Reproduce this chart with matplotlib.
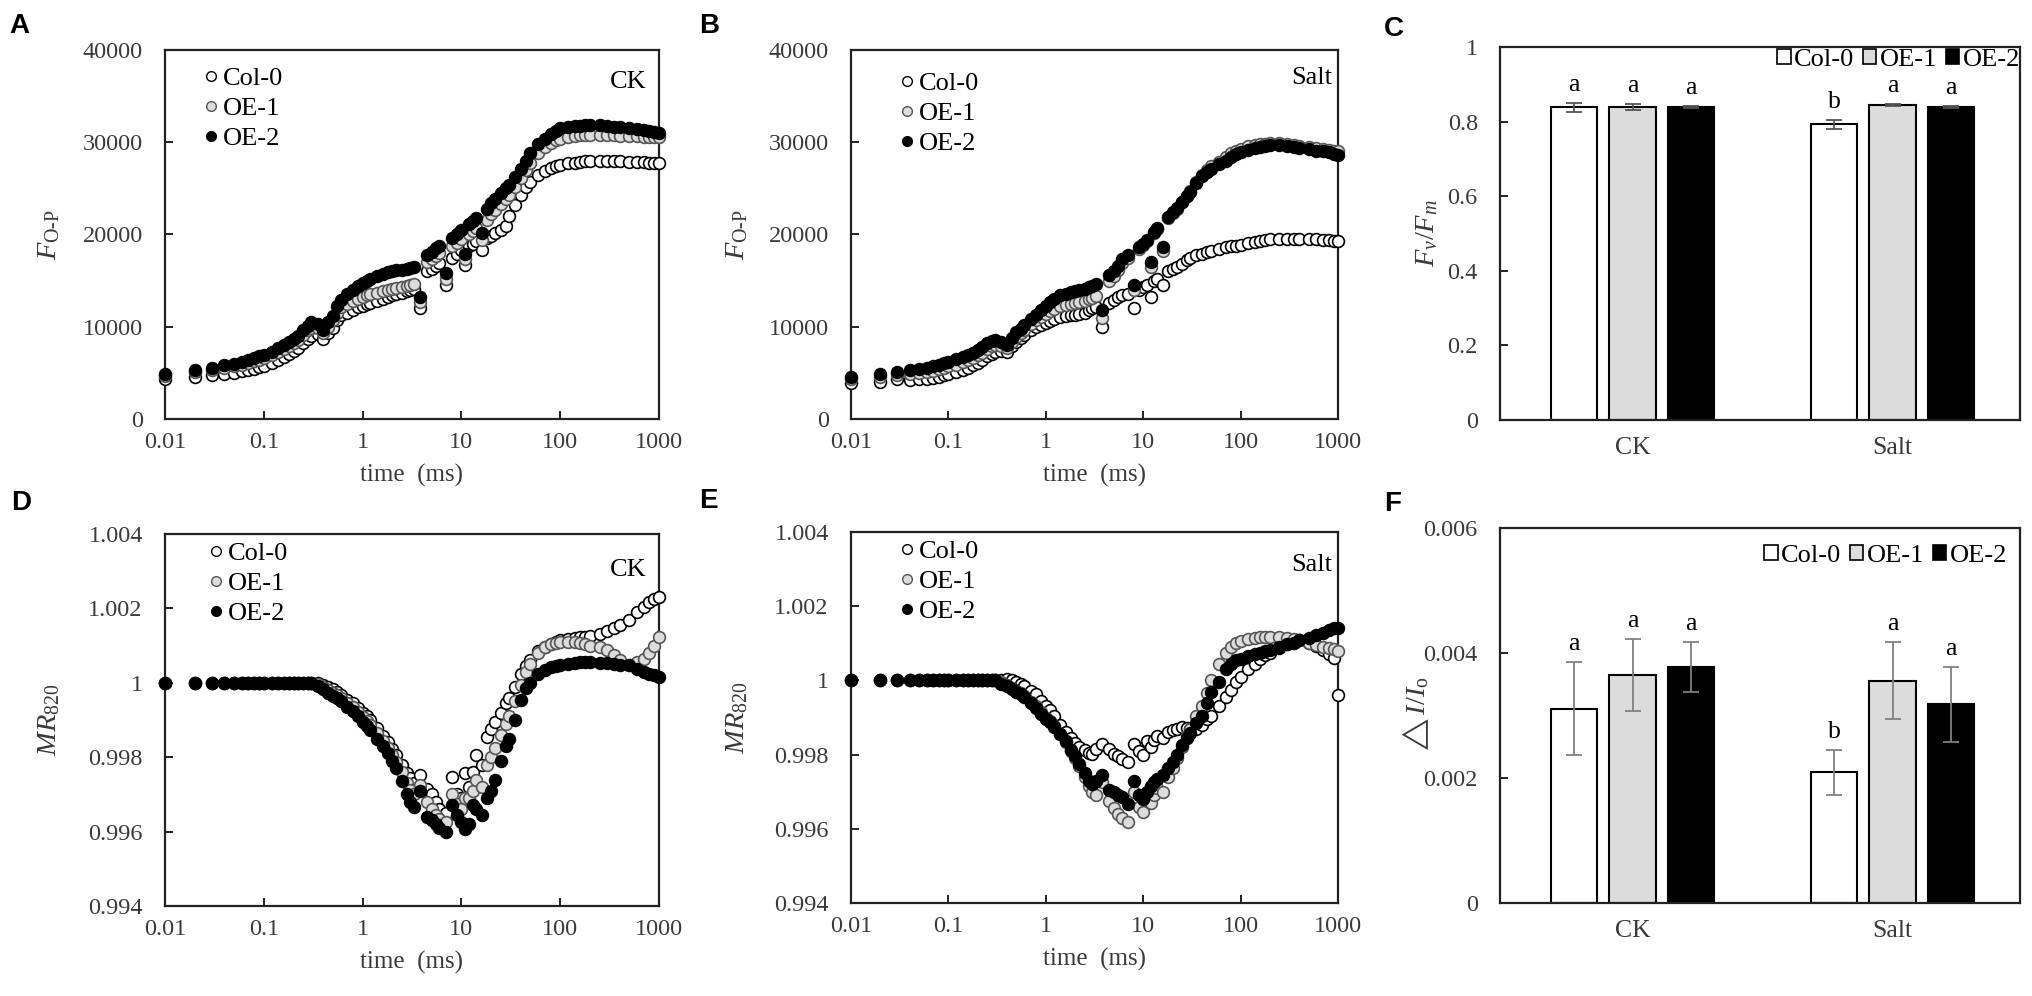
import numpy as np
import matplotlib
matplotlib.use('Agg')
import matplotlib.pyplot as plt
from matplotlib.lines import Line2D
from matplotlib.patches import Patch

plt.rcParams['font.family'] = ['Liberation Serif', 'DejaVu Serif']
plt.rcParams['mathtext.fontset'] = 'custom'
plt.rcParams['mathtext.rm'] = 'Liberation Serif'
plt.rcParams['mathtext.it'] = 'Liberation Serif:italic'
plt.rcParams['mathtext.fallback'] = 'stix'

# ---- data ----
genotypes = ['Col-0', 'OE-1', 'OE-2']

# sampling times (ms)
t = [0.01, 0.02, 0.03, 0.04, 0.05, 0.06, 0.07, 0.08, 0.09, 0.1,
     0.12, 0.14, 0.16, 0.18, 0.2, 0.22, 0.25, 0.28, 0.3, 0.35,
     0.4, 0.45, 0.5, 0.55, 0.6, 0.7, 0.8, 0.9, 1.0, 1.1,
     1.2, 1.4, 1.6, 1.8, 2.0, 2.2, 2.5, 2.8, 3.0, 3.3,
     3.8, 4.5, 5.0, 5.5, 6.0, 7.0, 8.0, 9.0, 10, 11,
     12, 13, 14, 16, 18, 20, 22, 25, 28, 30,
     35, 40, 45, 50, 60, 70, 80, 90, 100, 120,
     140, 160, 180, 200, 250, 300, 350, 400, 500, 600,
     700, 800, 900, 1000]

# A: OJIP, CK
ojip_ck_col0 = [4300, 4600, 4800, 4900, 5000, 5150, 5300, 5450, 5600, 5750,
                6050, 6350, 6700, 7000, 7350, 7700, 8200, 8700, 9000, 9200,
                8700, 9300, 9900, 10700, 11300, 11500, 11800, 12100, 12300, 12500,
                12600, 12800, 13000, 13200, 13400, 13500, 13700, 13900, 14000, 14100,
                12000, 16000, 16300, 16600, 16900, 14500, 17500, 17900, 18300, 16700,
                18700, 19000, 19300, 18300, 19600, 19800, 20200, 20500, 20900, 22000,
                23200, 24300, 25100, 25700, 26400, 26900, 27200, 27400, 27500, 27700,
                27800, 27900, 28000, 28000, 28000, 28000, 28000, 28000, 27900, 27900,
                27900, 27800, 27800, 27800]
ojip_ck_oe1 = [4700, 5100, 5300, 5500, 5700, 5900, 6050, 6250, 6400, 6600,
               6900, 7250, 7600, 7900, 8250, 8600, 9100, 9600, 9900, 9900,
               9300, 10000, 10700, 11500, 12100, 12500, 12800, 13000, 13200, 13400,
               13500, 13700, 13900, 14000, 14100, 14200, 14300, 14400, 14500, 14600,
               12700, 17000, 17300, 17700, 18000, 15200, 18700, 19100, 19500, 17300,
               20000, 20400, 20700, 19400, 21600, 22200, 22700, 23300, 23900, 24300,
               25200, 26100, 27000, 27800, 28800, 29500, 29900, 30200, 30400, 30600,
               30700, 30800, 30800, 30800, 30800, 30800, 30800, 30700, 30700, 30700,
               30600, 30600, 30600, 30600]
ojip_ck_oe2 = [4900, 5300, 5500, 5800, 6000, 6200, 6400, 6600, 6800, 6950,
               7300, 7650, 8000, 8300, 8650, 9000, 9600, 10100, 10500, 10300,
               9700, 10500, 11200, 12200, 12900, 13600, 14000, 14400, 14700, 15000,
               15200, 15500, 15700, 15900, 16000, 16100, 16200, 16300, 16400, 16500,
               13200, 17800, 18100, 18500, 18800, 15800, 19600, 20100, 20500, 17900,
               21100, 21500, 21800, 20200, 22800, 23400, 23900, 24500, 25000, 25400,
               26200, 27100, 28000, 28800, 29800, 30400, 30900, 31200, 31500, 31700,
               31800, 31800, 31900, 31900, 31900, 31800, 31700, 31600, 31500, 31400,
               31300, 31200, 31100, 31000]

# B: OJIP, Salt
ojip_salt_col0 = [3900, 4000, 4300, 4200, 4300, 4350, 4450, 4600, 4750, 4850,
                  5050, 5300, 5550, 5800, 6100, 6400, 6800, 7100, 7300, 7400,
                  7300, 7900, 8400, 8800, 9100, 9600, 10000, 10200, 10400, 10600,
                  10800, 11100, 11200, 11300, 11300, 11400, 11500, 11800, 12000, 12100,
                  10000, 12600, 12900, 13200, 13400, 13600, 12000, 14000, 14300, 14500,
                  13200, 15000, 15200, 14500, 16000, 16300, 16500, 16800, 17200, 17500,
                  17800, 17900, 18100, 18200, 18400, 18600, 18700, 18800, 18900, 19100,
                  19200, 19300, 19400, 19500, 19500, 19500, 19500, 19500, 19500, 19500,
                  19400, 19400, 19300, 19300]
ojip_salt_oe1 = [4300, 4600, 4800, 4900, 5000, 5100, 5250, 5400, 5550, 5700,
                 5900, 6150, 6400, 6650, 6900, 7200, 7600, 7900, 8000, 7900,
                 7700, 8400, 8900, 9300, 9700, 10300, 10700, 11100, 11400, 11700,
                 11900, 12200, 12400, 12500, 12600, 12700, 12800, 13000, 13100, 13300,
                 11000, 15000, 15500, 16200, 16900, 17500, 14000, 18400, 18900, 19300,
                 16500, 20200, 20600, 18200, 21800, 22300, 22800, 23500, 24200, 24700,
                 25700, 26500, 27000, 27400, 27900, 28400, 28800, 29100, 29300, 29600,
                 29700, 29800, 29800, 29900, 29900, 29800, 29700, 29600, 29500, 29400,
                 29300, 29200, 29100, 29000]
ojip_salt_oe2 = [4500, 4900, 5100, 5300, 5400, 5500, 5700, 5900, 6100, 6200,
                 6450, 6700, 6950, 7200, 7500, 7800, 8200, 8500, 8600, 8400,
                 8000, 8800, 9400, 9800, 10200, 10800, 11300, 11800, 12300, 12700,
                 13000, 13400, 13600, 13800, 13900, 14000, 14100, 14300, 14400, 14600,
                 11800, 15600, 16000, 16600, 17300, 17800, 14500, 18600, 19000, 19400,
                 17000, 20300, 20700, 18600, 21900, 22400, 22900, 23500, 24200, 24600,
                 25600, 26300, 26800, 27100, 27600, 28000, 28400, 28700, 28900, 29200,
                 29400, 29500, 29600, 29700, 29700, 29600, 29500, 29400, 29300, 29100,
                 29000, 28900, 28700, 28600]

# D: MR820, CK
mr_ck_col0 = [1.0, 1.0, 1.0, 1.0, 1.0, 1.0, 1.0, 1.0, 1.0, 1.0,
              1.0, 1.0, 1.0, 1.0, 1.0, 1.0, 1.0, 1.0, 1.0, 1.0,
              0.99995, 0.99988, 0.99982, 0.99975, 0.99968, 0.99955, 0.99945, 0.99933, 0.99920, 0.99910,
              0.99900, 0.99878, 0.99858, 0.99840, 0.99822, 0.99805, 0.99780, 0.99758, 0.99745, 0.99730,
              0.99753, 0.99715, 0.99700, 0.99680, 0.99660, 0.99650, 0.99748, 0.99700, 0.99690, 0.99757,
              0.99720, 0.99760, 0.99807, 0.99780, 0.99855, 0.99875, 0.99895, 0.99920, 0.99945, 0.99960,
              0.99988, 1.00025, 1.00045, 1.00060, 1.00085, 1.00097, 1.00105, 1.00110, 1.00115, 1.00118,
              1.00120, 1.00122, 1.00124, 1.00126, 1.00132, 1.00140, 1.00148, 1.00155, 1.00168, 1.00190,
              1.00205, 1.00218, 1.00225, 1.00230]
mr_ck_oe1 = [1.0, 1.0, 1.0, 1.0, 1.0, 1.0, 1.0, 1.0, 1.0, 1.0,
             1.0, 1.0, 1.0, 1.0, 1.0, 1.0, 1.0, 1.0, 1.0, 0.99996,
             0.99988, 0.99980, 0.99973, 0.99966, 0.99958, 0.99945, 0.99935, 0.99921, 0.99907, 0.99897,
             0.99886, 0.99864, 0.99843, 0.99825, 0.99805, 0.99788, 0.99760, 0.99730, 0.99712, 0.99700,
             0.99725, 0.99680, 0.99660, 0.99645, 0.99635, 0.99625, 0.99700, 0.99675, 0.99660, 0.99690,
             0.99690, 0.99710, 0.99740, 0.99720, 0.99780, 0.99800, 0.99825, 0.99860, 0.99890, 0.99910,
             0.99950, 0.99995, 1.00030, 1.00050, 1.00080, 1.00095, 1.00103, 1.00108, 1.00110, 1.00110,
             1.00110, 1.00108, 1.00105, 1.00100, 1.00095, 1.00088, 1.00075, 1.00060, 1.00047, 1.00055,
             1.00065, 1.00080, 1.00100, 1.00124]
mr_ck_oe2 = [1.0, 1.0, 1.0, 1.0, 1.0, 1.0, 1.0, 1.0, 1.0, 1.0,
             1.0, 1.0, 1.0, 1.0, 1.0, 1.0, 1.0, 1.0, 1.0, 0.99992,
             0.99982, 0.99972, 0.99965, 0.99958, 0.99950, 0.99935, 0.99925, 0.99910, 0.99895, 0.99885,
             0.99873, 0.99850, 0.99830, 0.99810, 0.99790, 0.99770, 0.99735, 0.99700, 0.99680, 0.99667,
             0.99708, 0.99640, 0.99630, 0.99620, 0.99610, 0.99600, 0.99671, 0.99645, 0.99625, 0.99608,
             0.99620, 0.99671, 0.99660, 0.99644, 0.99690, 0.99710, 0.99740, 0.99790, 0.99830, 0.99850,
             0.99900, 0.99955, 0.99985, 1.00000, 1.00024, 1.00035, 1.00043, 1.00046, 1.00047, 1.00050,
             1.00053, 1.00055, 1.00056, 1.00055, 1.00053, 1.00052, 1.00050, 1.00049, 1.00047, 1.00038,
             1.00030, 1.00024, 1.00020, 1.00015]

# E: MR820, Salt
mr_salt_col0 = [1.0, 1.0, 1.0, 1.0, 1.0, 1.0, 1.0, 1.0, 1.0, 1.0,
                1.0, 1.0, 1.0, 1.0, 1.0, 1.0, 1.0, 1.0, 1.0, 1.00002,
                1.00003, 1.00000, 0.99995, 0.99990, 0.99986, 0.99972, 0.99962, 0.99945, 0.99930, 0.99920,
                0.99905, 0.99880, 0.99862, 0.99845, 0.99830, 0.99820, 0.99812, 0.99805, 0.99802, 0.99815,
                0.99829, 0.99815, 0.99802, 0.99795, 0.99788, 0.99779, 0.99829, 0.99810, 0.99800, 0.99838,
                0.99820, 0.99840, 0.99851, 0.99845, 0.99860, 0.99865, 0.99870, 0.99874, 0.99872, 0.99870,
                0.99869, 0.99880, 0.99895, 0.99905, 0.99932, 0.99955, 0.99975, 0.99995, 1.00010, 1.00030,
                1.00045, 1.00058, 1.00068, 1.00075, 1.00088, 1.00097, 1.00103, 1.00108, 1.00100, 1.00092,
                1.00082, 1.00070, 1.00060, 0.99960]
mr_salt_oe1 = [1.0, 1.0, 1.0, 1.0, 1.0, 1.0, 1.0, 1.0, 1.0, 1.0,
               1.0, 1.0, 1.0, 1.0, 1.0, 1.0, 1.0, 1.0, 1.0, 0.99995,
               0.99988, 0.99980, 0.99972, 0.99965, 0.99957, 0.99943, 0.99930, 0.99915, 0.99900, 0.99890,
               0.99878, 0.99855, 0.99835, 0.99810, 0.99790, 0.99770, 0.99740, 0.99715, 0.99700, 0.99690,
               0.99725, 0.99675, 0.99655, 0.99640, 0.99628, 0.99617, 0.99700, 0.99660, 0.99645, 0.99690,
               0.99670, 0.99690, 0.99710, 0.99700, 0.99740, 0.99765, 0.99790, 0.99820, 0.99850, 0.99870,
               0.99905, 0.99930, 0.99965, 1.00000, 1.00045, 1.00075, 1.00090, 1.00100, 1.00105, 1.00112,
               1.00115, 1.00117, 1.00118, 1.00118, 1.00117, 1.00115, 1.00112, 1.00108, 1.00100, 1.00095,
               1.00090, 1.00088, 1.00085, 1.00080]
mr_salt_oe2 = [1.0, 1.0, 1.0, 1.0, 1.0, 1.0, 1.0, 1.0, 1.0, 1.0,
               1.0, 1.0, 1.0, 1.0, 1.0, 1.0, 1.0, 1.0, 1.0, 0.99990,
               0.99985, 0.99978, 0.99970, 0.99962, 0.99955, 0.99940, 0.99925, 0.99910, 0.99897, 0.99887,
               0.99875, 0.99855, 0.99838, 0.99812, 0.99795, 0.99775, 0.99750, 0.99728, 0.99722, 0.99730,
               0.99745, 0.99705, 0.99698, 0.99690, 0.99685, 0.99667, 0.99730, 0.99690, 0.99680, 0.99700,
               0.99716, 0.99725, 0.99735, 0.99745, 0.99765, 0.99780, 0.99800, 0.99825, 0.99845, 0.99858,
               0.99885, 0.99905, 0.99940, 0.99968, 0.99995, 1.00032, 1.00045, 1.00054, 1.00058, 1.00066,
               1.00070, 1.00075, 1.00080, 1.00083, 1.00090, 1.00097, 1.00102, 1.00108, 1.00115, 1.00122,
               1.00128, 1.00135, 1.00140, 1.00142]

# C: Fv/Fm, F: dI/Io  (rows = genotypes, columns = CK, Salt)
treatments = ['CK', 'Salt']
fvfm_mean = [[0.838, 0.793], [0.838, 0.845], [0.840, 0.840]]
fvfm_err = [[0.013, 0.012], [0.008, 0.003], [0.003, 0.003]]
fvfm_sig = [['a', 'b'], ['a', 'a'], ['a', 'a']]
dio_mean = [[0.00311, 0.00209], [0.00365, 0.00356], [0.00377, 0.00318]]
dio_err = [[0.00074, 0.00036], [0.00058, 0.00062], [0.00040, 0.00060]]
dio_sig = [['a', 'b'], ['a', 'a'], ['a', 'a']]

# ---- styling ----
face = {'Col-0': 'white', 'OE-1': '#dcdcdc', 'OE-2': 'black'}
edge = {'Col-0': 'black', 'OE-1': '#555555', 'OE-2': 'black'}
tick_col = '#3a3a3a'
FS = 17.5

W, H = 2033, 996
fig = plt.figure(figsize=(W / 100, H / 100), dpi=100)


def box(l, t_, r, b):
    return [l / W, 1 - b / H, (r - l) / W, (b - t_) / H]


def frame(ax):
    for s in ax.spines.values():
        s.set_linewidth(1.6)
        s.set_color('#222222')
    ax.tick_params(direction='in', length=6, width=1.4, color='#222222',
                   labelsize=FS, labelcolor=tick_col)
    ax.tick_params(axis='y', pad=16)
    ax.tick_params(axis='x', pad=9)


def scatter_panel(ax, series, ylim, yticks, ylabels, ylabel, tag, tag_xy,
                  leg_anchor):
    for g, y in zip(genotypes, series):
        ax.scatter(t, y, s=72, c=face[g], edgecolors=edge[g], linewidths=1.2,
                   clip_on=False, zorder=3)
    ax.set_xscale('log')
    ax.set_xlim(0.01, 1000)
    ax.set_ylim(*ylim)
    ax.set_xticks([0.01, 0.1, 1, 10, 100, 1000])
    ax.set_xticklabels(['0.01', '0.1', '1', '10', '100', '1000'])
    ax.xaxis.set_minor_locator(matplotlib.ticker.NullLocator())
    ax.set_yticks(yticks)
    ax.set_yticklabels(ylabels)
    frame(ax)
    ax.set_xlabel('time  (ms)', fontsize=FS + 0.5, color=tick_col, labelpad=8)
    ax.set_ylabel(ylabel, fontsize=FS + 3, color=tick_col)
    ax.yaxis.set_label_coords(-0.208, 0.5)
    handles = [Line2D([], [], ls='none', marker='o', ms=7, mfc=face[g],
                      mec=edge[g], mew=1.0) for g in genotypes]
    ax.legend(handles, genotypes, loc='upper left', bbox_to_anchor=leg_anchor,
              frameon=False, fontsize=FS + 1.5, handlelength=0.7,
              handletextpad=0.1, labelspacing=0.25, borderaxespad=0,
              borderpad=0)
    ax.text(tag_xy[0], tag_xy[1], tag, transform=ax.transAxes, ha='right',
            va='center', fontsize=FS + 1.5)


def bar_panel(ax, means, errs, sigs, ylim, yticks, ylabels, ylabel, ecol,
              leg_anchor, lab_x):
    x = np.arange(len(treatments))
    offs = [-0.225, 0.0, 0.225]
    for i, g in enumerate(genotypes):
        ax.bar(x + offs[i], means[i], width=0.178, color=face[g],
               edgecolor='black', linewidth=1.5, zorder=2)
        ax.errorbar(x + offs[i], means[i], yerr=errs[i], fmt='none',
                    ecolor=ecol, elinewidth=1.3, capsize=5.5, capthick=1.3,
                    zorder=3)
        for j in range(len(treatments)):
            ax.annotate(sigs[i][j], (x[j] + offs[i], means[i][j] + errs[i][j]),
                        xytext=(0, 5), textcoords='offset points',
                        ha='center', va='bottom', fontsize=FS + 1)
    ax.set_xlim(-0.51, 1.49)
    ax.set_ylim(*ylim)
    ax.set_xticks(x)
    ax.set_xticklabels(treatments)
    ax.set_yticks(yticks)
    ax.set_yticklabels(ylabels)
    frame(ax)
    ax.tick_params(axis='x', length=0, pad=12, labelsize=FS + 1)
    ax.set_ylabel(ylabel, fontsize=FS + 3, color=tick_col)
    ax.yaxis.set_label_coords(lab_x, 0.5)
    handles = [Patch(facecolor=face[g], edgecolor='black', linewidth=1.2)
               for g in genotypes]
    ax.legend(handles, genotypes, loc='upper right', bbox_to_anchor=leg_anchor,
              ncol=3, frameon=False, fontsize=FS + 1.5, handlelength=0.5,
              handleheight=0.5, handletextpad=0.12, columnspacing=0.35,
              borderaxespad=0, borderpad=0)


ax_a = fig.add_axes(box(165, 50, 659, 419))
ax_b = fig.add_axes(box(851, 50, 1338, 419))
ax_c = fig.add_axes(box(1500, 47, 2020, 420))
ax_d = fig.add_axes(box(165, 534, 659, 906))
ax_e = fig.add_axes(box(851, 532, 1338, 903))
ax_f = fig.add_axes(box(1500, 528, 2020, 903))

fop_ticks = [0, 10000, 20000, 30000, 40000]
fop_labels = ['0', '10000', '20000', '30000', '40000']
fop_label = r'$F_{\rm O\text{-}P}$'
scatter_panel(ax_a, [ojip_ck_col0, ojip_ck_oe1, ojip_ck_oe2], (0, 40000),
              fop_ticks, fop_labels, fop_label, 'CK', (0.974, 0.913),
              (0.075, 0.955))
scatter_panel(ax_b, [ojip_salt_col0, ojip_salt_oe1, ojip_salt_oe2], (0, 40000),
              fop_ticks, fop_labels, fop_label, 'Salt', (0.988, 0.924),
              (0.097, 0.942))

mr_ticks = [0.994, 0.996, 0.998, 1.0, 1.002, 1.004]
mr_labels = ['0.994', '0.996', '0.998', '1', '1.002', '1.004']
mr_label = r'$MR_{820}$'
scatter_panel(ax_d, [mr_ck_col0, mr_ck_oe1, mr_ck_oe2], (0.994, 1.004),
              mr_ticks, mr_labels, mr_label, 'CK', (0.974, 0.903),
              (0.085, 0.98))
scatter_panel(ax_e, [mr_salt_col0, mr_salt_oe1, mr_salt_oe2], (0.994, 1.004),
              mr_ticks, mr_labels, mr_label, 'Salt', (0.988, 0.911),
              (0.097, 0.98))

bar_panel(ax_c, fvfm_mean, fvfm_err, fvfm_sig, (0, 1),
          [0, 0.2, 0.4, 0.6, 0.8, 1.0], ['0', '0.2', '0.4', '0.6', '0.8', '1'],
          r'$F_v/F_m$', '#555555', (1.0, 0.995), -0.115)
bar_panel(ax_f, dio_mean, dio_err, dio_sig, (0, 0.006),
          [0, 0.002, 0.004, 0.006], ['0', '0.002', '0.004', '0.006'],
          r'$\triangle I/I_{\rm o}$', '#808080', (0.975, 0.955), -0.133)

for lab, (px, py) in zip('ABCDEF', [(9, 13), (699, 13), (1384, 16),
                                     (11, 490), (699, 488), (1384, 491)]):
    fig.text(px / W, 1 - py / H, lab, ha='left', va='top', fontsize=20,
             fontweight='bold', family='Liberation Sans')

fig.savefig('out.png', dpi=100)
